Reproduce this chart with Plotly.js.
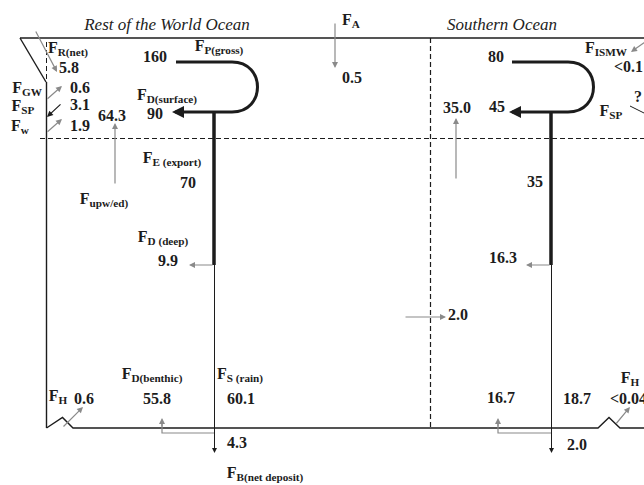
<!DOCTYPE html>
<html>
<head>
<meta charset="utf-8">
<script src="https://cdn.plot.ly/plotly-3.0.1.min.js"></script>
<style>html,body{margin:0;padding:0;background:#fff;}#chart{width:644px;height:485px;}</style>
</head>
<body>
<div id="chart"></div>
<script>
// ---- Data (flux values, names) ----
const regionNames = ['Rest of the World Ocean', 'Southern Ocean'];
const rowValues = ['5.8', '0.6', '3.1', '1.9', '64.3', '90', '160', '70', '9.9', '55.8', '60.1', '0.6', '4.3', '0.5'];
const soValues = ['80', '45', '35.0', '35', '16.3', '2.0', '16.7', '18.7', '2.0', '?'];
const soSmallValues = ['&lt;0.1', '&lt;0.04'];
const fluxNames = ['F<sub>R(net)</sub>', 'F<sub>GW</sub>', 'F<sub>SP</sub>', 'F<sub>w</sub>', 'F<sub>P(gross)</sub>',
  'F<sub>D(surface)</sub>', 'F<sub>E (export)</sub>', 'F<sub>upw/ed)</sub>', 'F<sub>D (deep)</sub>',
  'F<sub>D(benthic)</sub>', 'F<sub>S (rain)</sub>', 'F<sub>H</sub>', 'F<sub>B(net deposit)</sub>', 'F<sub>A</sub>',
  'F<sub>ISMW</sub>', 'F<sub>SP</sub>', 'F<sub>H</sub>'];

// ---- Layout positions (diagram coordinates) ----
const rowValPos = [[69,69],[80,89],[80,106],[80,127],[112,117],[155,115],[155,58],[188,184],[168,262],[157,400],[241,400],[84,400],[237,444],[352,79]];
const soValPos = [[496,58],[497,108],[457,109],[535,183],[503,259],[458,316],[501,399],[577,400],[577,446],[638,98]];
const soSmallPos = [[614,68],[610,400]];
const fluxPos = [[68,49],[27,89],[23,107],[20,127],[219,47],[167,96],[172,159],[104,200],[163,238],[152,375],[240,375],[58,397],[265,474],[351,21],[606,49],[611,112],[630,379]];
const regionPos = [[167,26],[502,26]];

const bold = s => '<b>' + s + '</b>';
const serif = 'Liberation Serif, Times New Roman, serif';
const ink = '#1c1c1c';
const gray = '#8a8a8a';

const traces = [
  { type:'scatter', mode:'text', x: rowValPos.map(p=>p[0]), y: rowValPos.map(p=>p[1]),
    text: rowValues.map(bold), textposition:'middle center', cliponaxis:false, hoverinfo:'skip',
    textfont:{family:serif, size:16, color:ink}, showlegend:false },
  { type:'scatter', mode:'text', x: soValPos.map(p=>p[0]), y: soValPos.map(p=>p[1]),
    text: soValues.map(bold), textposition:'middle center', cliponaxis:false, hoverinfo:'skip',
    textfont:{family:serif, size:16, color:ink}, showlegend:false },
  { type:'scatter', mode:'text', x: soSmallPos.map(p=>p[0]), y: soSmallPos.map(p=>p[1]),
    text: soSmallValues.map(bold), textposition:'middle right', cliponaxis:false, hoverinfo:'skip',
    textfont:{family:serif, size:16, color:ink}, showlegend:false },
  { type:'scatter', mode:'text', x: fluxPos.map(p=>p[0]), y: fluxPos.map(p=>p[1]),
    text: fluxNames.map(bold), textposition:'middle center', cliponaxis:false, hoverinfo:'skip',
    textfont:{family:serif, size:16, color:ink}, showlegend:false },
  { type:'scatter', mode:'text', x: regionPos.map(p=>p[0]), y: regionPos.map(p=>p[1]),
    text: regionNames.map(s=>'<i>'+s+'</i>'), textposition:'middle center', cliponaxis:false, hoverinfo:'skip',
    textfont:{family:serif, size:17, color:'#222'}, showlegend:false }
];

const line = (x0,y0,x1,y1,opt={}) => ({type:'line', xref:'x', yref:'y', x0, y0, x1, y1,
  line:{color:opt.color||ink, width:opt.width||1.2, dash:opt.dash||'solid'}});
const path = (d,opt={}) => ({type:'path', xref:'x', yref:'y', path:d,
  line:{color:opt.color||ink, width:opt.width||1.2, dash:opt.dash||'solid'}});

const dashed = '5px,3px';
const shapes = [
  // box outline
  line(20,38,644,38,{width:1.4}),
  path('M20,38 L46,82',{width:1.4}),
  line(46.5,42,46.5,82,{dash:dashed,width:1}),
  line(46.5,82,46.5,428,{width:1.4}),
  path('M46.5,428 L62.5,417.5 L73,428 L598,428 L609,417.5 L620,428 L644,428',{width:1.4}),
  // dashed separators
  line(40,138.5,644,138.5,{dash:dashed,width:1}),
  line(430.5,38,430.5,428,{dash:dashed,width:1.2}),
  // ROW loop
  path('M176,62 L232,62 C266,62 266,112 232,112 L178,112',{width:3}),
  line(214,112,214,265,{width:3.5}),
  line(214.5,265,214.5,446,{width:1}),
  // SO loop
  path('M512,62 L568,62 C602,62 602,112 568,112 L514,112',{width:3}),
  line(551,112,551,265,{width:3.5}),
  line(551.5,265,551.5,446,{width:1}),
  // benthic return paths
  path('M214,433 L162,433 L162,424',{color:gray,width:1.2}),
  path('M551,433 L498,433 L498,424',{color:gray,width:1.2}),
  // right F_SP line
  line(630,106,646,114,{width:1})
];

const arrow = (tx,ty,hx,hy,opt={}) => ({x:hx, y:hy, ax:tx, ay:ty, xref:'x', yref:'y', axref:'x', ayref:'y',
  text:'', showarrow:true, arrowhead:opt.head||2, arrowsize:opt.size||1, arrowwidth:opt.width||1.2,
  arrowcolor:opt.color||gray, standoff:0, startstandoff:0});

const annotations = [
  arrow(335,22,335,68),
  arrow(35,30,57,72),
  arrow(46,100,62,86),
  arrow(46,133,62,119),
  arrow(62,103,47,117,{color:ink}),
  arrow(115,185,115,123),
  arrow(456,180,456,118),
  arrow(214,265,189,265),
  arrow(551,265,526,265),
  arrow(162,428,162,418),
  arrow(498,428,498,418),
  arrow(404,317,446,317),
  arrow(648,40,631,52),
  arrow(615,425,630,407),
  arrow(62,428,83,407),
  arrow(214.5,440,214.5,453,{color:ink,width:1}),
  arrow(551.5,440,551.5,453,{color:ink,width:1}),
  arrow(182,112,172,112,{color:ink,width:3,size:0.8}),
  arrow(518,112,509,112,{color:ink,width:3,size:0.8})
];

const layout = {
  width:644, height:485, autosize:false,
  margin:{l:0,r:0,t:0,b:0,pad:0},
  paper_bgcolor:'#fff', plot_bgcolor:'#fff',
  xaxis:{range:[0,644], visible:false, fixedrange:true},
  yaxis:{range:[485,0], visible:false, fixedrange:true},
  shapes, annotations, showlegend:false
};

Plotly.newPlot('chart', traces, layout, {displayModeBar:false, staticPlot:true});
</script>
</body>
</html>
